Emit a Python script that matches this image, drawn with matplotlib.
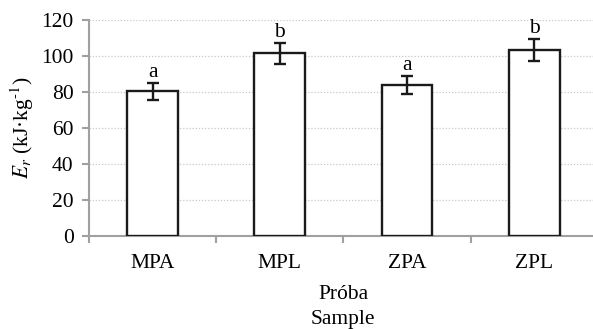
import matplotlib
matplotlib.use("Agg")
import matplotlib.pyplot as plt
import numpy as np

samples = ["MPA", "MPL", "ZPA", "ZPL"]
energy = [80.5, 101.6, 83.9, 103.5]
err = [4.7, 5.8, 5.1, 6.1]
letters = ["a", "b", "a", "b"]

plt.rcParams["font.family"] = ["Liberation Serif", "DejaVu Serif"]
plt.rcParams["mathtext.fontset"] = "stix"
FS = 15.5

fig = plt.figure(figsize=(5.93, 3.29), dpi=100)
ax = fig.add_axes([0.150, 0.283, 0.858, 0.656])

x = np.arange(len(samples))
ax.bar(x, energy, width=0.4, color="white", edgecolor="#1a1a1a", linewidth=1.7, zorder=3)
ax.errorbar(x, energy, yerr=err, fmt="none", ecolor="#1a1a1a", elinewidth=1.7,
            capsize=4, capthick=1.7, zorder=4)
for xi, v, e, lab in zip(x, energy, err, letters):
    ax.text(xi, v + e + 0.5, lab, ha="center", va="bottom", fontsize=FS)

ax.set_xlim(-0.5, 3.5)
ax.set_ylim(0, 120)
ax.set_yticks(np.arange(0, 121, 20))
ax.set_xticks(x)
ax.set_xticklabels(samples, fontsize=FS)
ax.set_xticks(np.arange(-0.5, 3.6, 1), minor=True)
ax.tick_params(axis="x", which="major", length=0, pad=13)
ax.tick_params(axis="x", which="minor", length=5, width=1.5, color="#a0a0a0", direction="out")
ax.tick_params(axis="y", length=5, width=1.5, color="#a0a0a0", labelsize=FS, pad=6)

ax.yaxis.grid(True, linestyle=(0, (1, 1.5)), color="#c8c8c8", linewidth=0.9, zorder=0)
ax.set_axisbelow(True)
for s in ["top", "right"]:
    ax.spines[s].set_visible(False)
for s in ["left", "bottom"]:
    ax.spines[s].set_color("#a0a0a0")
    ax.spines[s].set_linewidth(1.5)

ax.set_ylabel(r"$E_r$ (kJ·kg$^{\text{-}1}$)", fontsize=FS, labelpad=4)
ax.set_xlabel("Próba\nSample", fontsize=FS, labelpad=9, linespacing=1.4)

fig.savefig("out.png", dpi=100)
